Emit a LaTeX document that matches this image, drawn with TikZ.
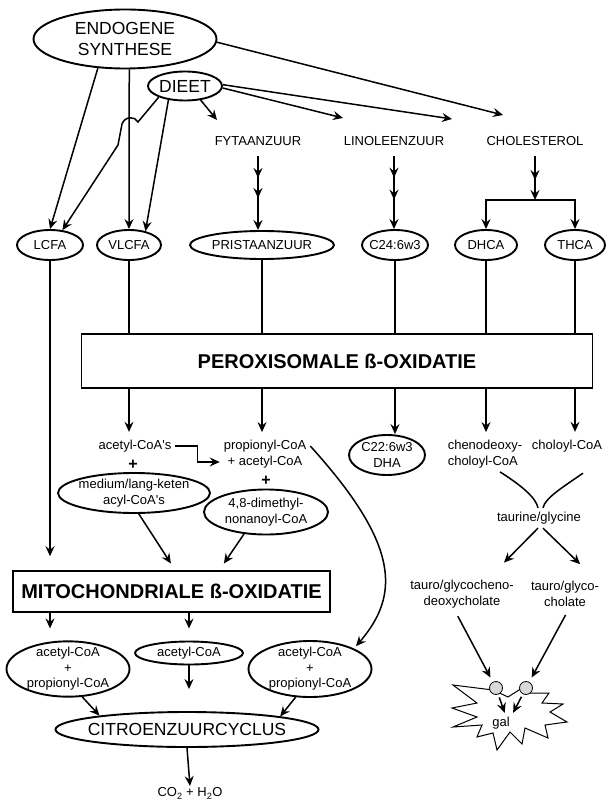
\documentclass[tikz,border=0pt]{standalone}
\usepackage{fontspec}
\setmainfont{Liberation Sans}
\usetikzlibrary{arrows.meta,shapes.geometric,decorations.markings}

\begin{document}
\begin{tikzpicture}[x=1pt,y=-1pt,line width=1.5pt,
    >={Stealth[length=10pt,width=9pt,inset=3.5pt]},
    small/.style={font=\fontsize{13}{15.5}\selectfont},
    big/.style={font=\fontsize{17.5}{21}\selectfont},
    oval/.style={ellipse,draw,line width=1.9pt,inner sep=0pt,align=center,small},
    lbl/.style={align=center,small},
    titlebox/.style={draw,line width=1.6pt,font=\fontsize{20}{24}\selectfont\bfseries},
    midhead/.style={postaction={decorate,decoration={markings,mark=at position #1 with {\arrow{>}}}}},
    dot/.style={circle,draw,fill=gray!30,line width=0.8pt,minimum size=13pt,inner sep=0pt}]
  \useasboundingbox (0,0) rectangle (605,802);

  \node[oval,big,minimum width=183pt,minimum height=59pt] (endo) at (125,39) {ENDOGENE\\SYNTHESE};
  \node[oval,big,minimum width=74pt,minimum height=29pt] (dieet) at (185,86) {DIEET};
  \node[lbl] (fyta) at (258,141) {FYTAANZUUR};
  \node[lbl] (lino) at (394,141) {LINOLEENZUUR};
  \node[lbl] (chol) at (535,141) {CHOLESTEROL};
  \coordinate (fytatip) at (217,120);
  \coordinate (linotip) at (343,118);
  \coordinate (choltipa) at (452,119);
  \coordinate (choltipb) at (503,115);
  \coordinate (split) at (535,200);

  \node[oval,minimum width=66pt,minimum height=30pt] (lcfa) at (50,245) {LCFA};
  \node[oval,minimum width=64pt,minimum height=30pt] (vlcfa) at (129,245) {VLCFA};
  \node[oval,minimum width=144pt,minimum height=28pt] (prist) at (262,245) {PRISTAANZUUR};
  \node[oval,minimum width=66pt,minimum height=30pt,inner xsep=-2.5pt] (c24) at (395,245) {C24:6w3};
  \node[oval,minimum width=62pt,minimum height=30pt] (dhca) at (486,245) {DHCA};
  \node[oval,minimum width=60pt,minimum height=30pt] (thca) at (575,245) {THCA};

  \node[titlebox,minimum width=511pt,minimum height=54pt] (perox) at (337,361) {PEROXISOMALE ß-OXIDATIE};

  \node[lbl] (acets) at (135,446) {acetyl-CoA\textquotesingle s};
  \node[lbl] (propac) at (265,454) {propionyl-CoA\\+ acetyl-CoA};
  \node[oval,minimum width=76pt,minimum height=40pt] (c22) at (387,455) {C22:6w3\\DHA};
  \node[lbl,align=left] (cheno) at (485,454) {chenodeoxy-\\choloyl-CoA};
  \node[lbl] (cholo) at (567,446) {choloyl-CoA};
  \node[font=\bfseries\fontsize{16}{18}\selectfont] (plus1) at (133,465) {+};
  \node[font=\bfseries\fontsize{16}{18}\selectfont] (plus2) at (266,481) {+};
  \node[oval,minimum width=152pt,minimum height=40pt,inner xsep=-2pt] (medium) at (134,493) {medium/lang-keten\\acyl-CoA\textquotesingle s};
  \node[oval,minimum width=124pt,minimum height=45pt] (dimeth) at (266,512) {4,8-dimethyl-\\nonanoyl-CoA};
  \node[titlebox,minimum width=317pt,minimum height=41pt] (mito) at (171.5,591.5) {MITOCHONDRIALE ß-OXIDATIE};

  \node[oval,minimum width=123pt,minimum height=55pt,inner ysep=-2pt] (accl) at (68,669) {acetyl-CoA\\+\\propionyl-CoA};
  \node[oval,minimum width=108pt,minimum height=23pt] (accm) at (189,653) {acetyl-CoA};
  \node[oval,minimum width=123pt,minimum height=56pt,inner ysep=-2pt] (accr) at (310,669) {acetyl-CoA\\+\\propionyl-CoA};
  \node[oval,big,minimum width=263pt,minimum height=35pt,inner xsep=-8pt] (citro) at (187,729.5) {CITROENZUURCYCLUS};
  \node[lbl,anchor=north,inner sep=1pt] (co2) at (190,786) {CO\textsubscript{2} + H\textsubscript{2}O};

  \node[lbl] (tgly) at (539,518) {taurine/glycine};
  \node[lbl] (tgcheno) at (462,594) {tauro/glycocheno-\\deoxycholate};
  \node[lbl] (tgcho) at (565,594) {tauro/glyco-\\cholate};

  \draw[line width=1pt,fill=white] (453,685) -- (493,690) -- (508,697) -- (522,688) -- (530,693)
    -- (549,693) -- (542,703) -- (563,704) -- (550,712) -- (567,722) -- (545,725) -- (548,738)
    -- (525,728) -- (522,744) -- (510,732) -- (497,750) -- (493,733) -- (477,737) -- (482,725)
    -- (453,727) -- (477,717) -- (452,708) -- (477,703) -- cycle;
  \node[dot] (d1) at (496,688) {};
  \node[dot] (d2) at (526,688) {};
  \node[lbl] (gal) at (501,723) {gal};

  \draw[->] (endo.227) -- (lcfa.north);
  \draw[->] (endo.278) -- (vlcfa.north);
  \draw[->] (endo.358) -- (choltipb);
  \draw[->] (dieet.203) -- (138,122) .. controls (135,116) and (125,116) .. (122,124) -- (118,145) -- (lcfa.50);
  \draw[->] (dieet.220) -- (vlcfa.40);
  \draw[->] (dieet.318) -- (fytatip);
  \draw[->] (dieet.357) -- (linotip);
  \draw[->] (dieet.2) -- (choltipa);

  \draw[->,midhead=0.3,midhead=0.57] ([yshift=-6pt]fyta.south) -- (fyta.south |- prist.north);
  \draw[->,midhead=0.3,midhead=0.6] ([yshift=-6pt]lino.south) -- (lino.south |- c24.north);
  \draw[->,midhead=0.55] ([yshift=-6pt]chol.south) -- (split);
  \draw[->] (split) -| (dhca.north);
  \draw[->] (split) -| (thca.north);

  \foreach \n in {vlcfa,prist,c24,dhca,thca}
    \draw (\n.south) -- (\n.south |- perox.north);
  \draw[->,shorten >=14pt] (lcfa.south) -- (lcfa.south |- mito.north);

  \foreach \a/\b in {vlcfa/acets,prist/propac,dhca/cheno,thca/cholo}
    \draw[->,shorten >=4pt] (perox.south -| \a.south) -- (\a.south |- \b.north);
  \draw[->] (perox.south -| c24.south) -- (c24.south |- c22.north);
  \draw[->] (acets.east) -- ++(22,0) |- (propac.190);

  \draw[->,shorten >=8pt] (medium.283) -- (mito.80);
  \draw[->,shorten >=8pt] (dimeth.225) -- (mito.24);
  \draw[->,shorten >=3pt] (propac.10) .. controls (400,545) and (400,595) .. (accr.25);

  \draw[->,shorten >=12pt] (mito.south -| lcfa.south) -- (lcfa.south |- accl.north);
  \draw[->,shorten >=12pt] (mito.south -| accm.north) -- (accm.north);
  \draw[->,shorten >=22pt] (accm.south) -- (accm.south |- citro.north);
  \draw[->] (accl.297) -- (citro.171);
  \draw[->] (accr.243) -- (citro.8);
  \draw[->] (citro.south) -- (co2.north);

  \draw (cheno.310) .. controls +(22,14) and +(-2,-10) .. ([xshift=-1pt]tgly.north);
  \draw ([xshift=16pt,yshift=-17pt]cholo.south) .. controls +(-20,14) and +(2,-10) .. ([xshift=4pt]tgly.north);
  \draw[->,shorten >=19pt] ([xshift=-1pt]tgly.south) -- (tgcheno.32);
  \draw[->,shorten >=19pt] ([xshift=4pt]tgly.south) -- (tgcho.30);
  \draw[->,shorten <=5pt,shorten >=5pt] (tgcheno.250) -- (d1);
  \draw[->,shorten <=5pt,shorten >=5pt] (tgcho.280) -- (d2);
  \draw[->,shorten <=3pt] (d1) -- (gal.70);
  \draw[->,shorten <=3pt] (d2) -- (gal.40);
\end{tikzpicture}
\end{document}
